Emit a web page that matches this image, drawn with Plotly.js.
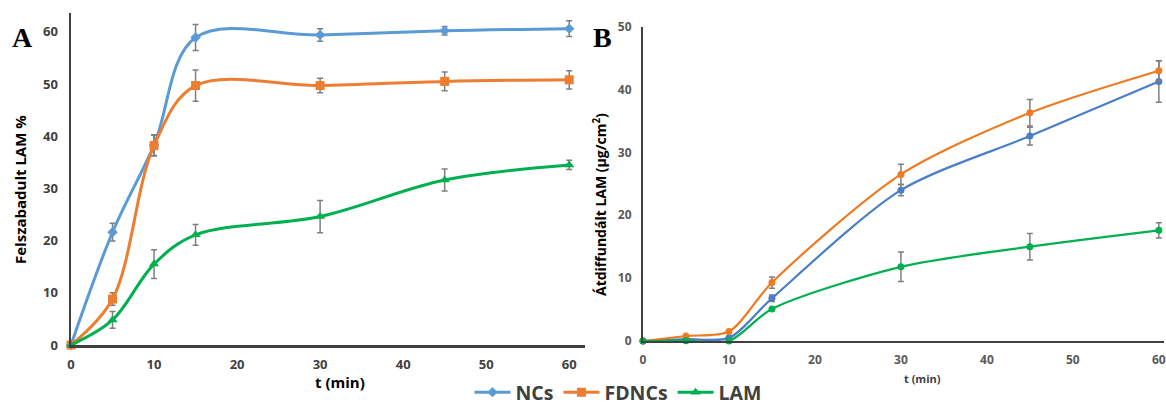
<!DOCTYPE html>
<html><head><meta charset="utf-8">
<script src="https://cdn.plot.ly/plotly-3.0.1.min.js"></script>
<style>html,body{margin:0;padding:0;background:#fff}#chart{width:1166px;height:412px}</style>
</head><body><div id="chart"></div>
<script>
// Time points (min)
const timeA = [0, 5, 10, 15, 30, 45, 60];
const timeB = [0, 5, 10, 15, 30, 45, 60];
const seriesNames = ['NCs', 'FDNCs', 'LAM'];

// Panel A: Felszabadult LAM %
const ncsA = [0, 21.6, 38.3, 58.9, 59.4, 60.2, 60.6];
const ncsAErr = [0, 1.7, 2.0, 2.5, 1.2, 0.8, 1.5];
const fdncsA = [0, 8.8, 38.2, 49.7, 49.7, 50.5, 50.8];
const fdncsAErr = [0, 1.2, 2.0, 3.0, 1.4, 1.8, 1.75];
const lamA = [0, 4.8, 15.5, 21.1, 24.6, 31.6, 34.5];
const lamAErr = [0, 1.6, 2.75, 2.0, 3.1, 2.1, 0.9];

// Panel B: Átdiffundált LAM (µg/cm²)
const ncsB = [0, 0.3, 0.5, 6.8, 24.0, 32.6, 41.3];
const ncsBErr = [0, 0, 0, 0.5, 0.9, 1.4, 3.3];
const fdncsB = [0, 0.8, 1.5, 9.3, 26.5, 36.3, 43.0];
const fdncsBErr = [0, 0, 0, 0.9, 1.6, 2.1, 1.6];
const lamB = [0, 0.05, 0, 5.1, 11.8, 15.0, 17.6];
const lamBErr = [0, 0, 0, 0, 2.35, 2.1, 1.2];

const tickVals = [0, 10, 20, 30, 40, 50, 60];
const yTicksA = [0, 10, 20, 30, 40, 50, 60];
const yTicksB = [0, 10, 20, 30, 40, 50];

const W = 1166, H = 412;
const px = v => v / W, py = v => 1 - v / H;

const colA = ['#5B9BD5', '#ED7D31', '#00B050'];
const colB = ['#4A7EC7', '#EE7A22', '#00B050'];
const symA = ['diamond', 'square', 'triangle-up'];
const sizeA = [8, 9, 9];

function errObj(arr) {
  return {type: 'data', array: arr, visible: true, color: '#7F7F7F', thickness: 1.5, width: 3};
}

const dataA = [[ncsA, ncsAErr], [fdncsA, fdncsAErr], [lamA, lamAErr]];
const dataB = [[ncsB, ncsBErr], [fdncsB, fdncsBErr], [lamB, lamBErr]];

const traces = [];
dataA.forEach((d, i) => {
  traces.push({
    x: timeA, y: d[0], error_y: errObj(d[1]), name: seriesNames[i],
    type: 'scatter', mode: 'lines+markers', xaxis: 'x', yaxis: 'y',
    line: {color: colA[i], width: 3, shape: 'spline', smoothing: 1},
    marker: {color: colA[i], symbol: symA[i], size: sizeA[i]},
    cliponaxis: false, showlegend: true
  });
});
dataB.forEach((d, i) => {
  traces.push({
    x: timeB, y: d[0], error_y: errObj(d[1]), name: seriesNames[i],
    type: 'scatter', mode: 'lines+markers', xaxis: 'x2', yaxis: 'y2',
    line: {color: colB[i], width: 2.2, shape: 'spline', smoothing: 0.8},
    marker: {color: colB[i], symbol: 'circle', size: 7},
    cliponaxis: false, showlegend: false
  });
});

const tickFontA = {family: 'Open Sans', size: 13, color: '#404040', weight: 'bold'};
const tickFontB = {family: 'Open Sans', size: 12, color: '#595959', weight: 'bold'};

const layout = {
  width: W, height: H,
  margin: {l: 0, r: 0, t: 0, b: 0},
  paper_bgcolor: '#fff', plot_bgcolor: 'rgba(0,0,0,0)',
  showlegend: true,
  legend: {orientation: 'h', x: 0.53, xanchor: 'center', y: 0, yanchor: 'bottom',
           font: {family: 'Open Sans', size: 19.5, color: '#404040', weight: 'bold'},
           itemwidth: 36, tracegroupgap: 0},
  xaxis: {domain: [px(71), px(585)], range: [0, 61.9], tickvals: tickVals, ticks: '',
          showline: true, linecolor: '#404040', linewidth: 2.5, showgrid: false, zeroline: false,
          tickfont: tickFontA, ticklabelstandoff: 6, anchor: 'y', fixedrange: true},
  yaxis: {domain: [py(345), py(13)], range: [0, 63.6], tickvals: yTicksA, ticks: '',
          showline: true, linecolor: '#404040', linewidth: 2.5, showgrid: false, zeroline: false,
          tickfont: tickFontA, ticklabelstandoff: 8, anchor: 'x', fixedrange: true},
  xaxis2: {domain: [px(643), px(1164)], range: [0, 60.6], tickvals: tickVals, ticks: '',
           showline: true, linecolor: '#404040', linewidth: 2, showgrid: false, zeroline: false,
           tickfont: tickFontB, ticklabelstandoff: 7, anchor: 'y2', fixedrange: true},
  yaxis2: {domain: [py(341), py(26.7)], range: [0, 50], tickvals: yTicksB, ticks: '',
           showline: true, linecolor: '#404040', linewidth: 2, showgrid: false, zeroline: false,
           tickfont: tickFontB, ticklabelstandoff: 7, anchor: 'x2', fixedrange: true},
  annotations: [
    {text: 'A', xref: 'paper', yref: 'paper', x: px(22), y: py(38), xanchor: 'center', yanchor: 'middle',
     showarrow: false, font: {family: 'Liberation Serif', size: 28, color: '#000', weight: 'bold'}},
    {text: 'B', xref: 'paper', yref: 'paper', x: px(602), y: py(38), xanchor: 'center', yanchor: 'middle',
     showarrow: false, font: {family: 'Liberation Serif', size: 28, color: '#000', weight: 'bold'}},
    {text: 'Felszabadult LAM %', xref: 'paper', yref: 'paper', x: px(20), y: py(190), textangle: -90,
     xanchor: 'center', yanchor: 'middle', showarrow: false,
     font: {family: 'Open Sans', size: 15, color: '#000', weight: 'bold'}},
    {text: 't (min)', xref: 'paper', yref: 'paper', x: px(340), y: py(382), xanchor: 'center', yanchor: 'middle',
     showarrow: false, font: {family: 'Open Sans', size: 15, color: '#000', weight: 'bold'}},
    {text: 'Átdiffundált LAM (µg/cm<sup>2</sup>)', xref: 'paper', yref: 'paper', x: px(600), y: py(205), textangle: -90,
     xanchor: 'center', yanchor: 'middle', showarrow: false,
     font: {family: 'Open Sans', size: 14, color: '#000', weight: 'bold'}},
    {text: 't (min)', xref: 'paper', yref: 'paper', x: px(922), y: py(378), xanchor: 'center', yanchor: 'middle',
     showarrow: false, font: {family: 'Open Sans', size: 11, color: '#404040', weight: 'bold'}}
  ]
};

Plotly.newPlot('chart', traces, layout, {displayModeBar: false, staticPlot: true});
</script></body></html>
